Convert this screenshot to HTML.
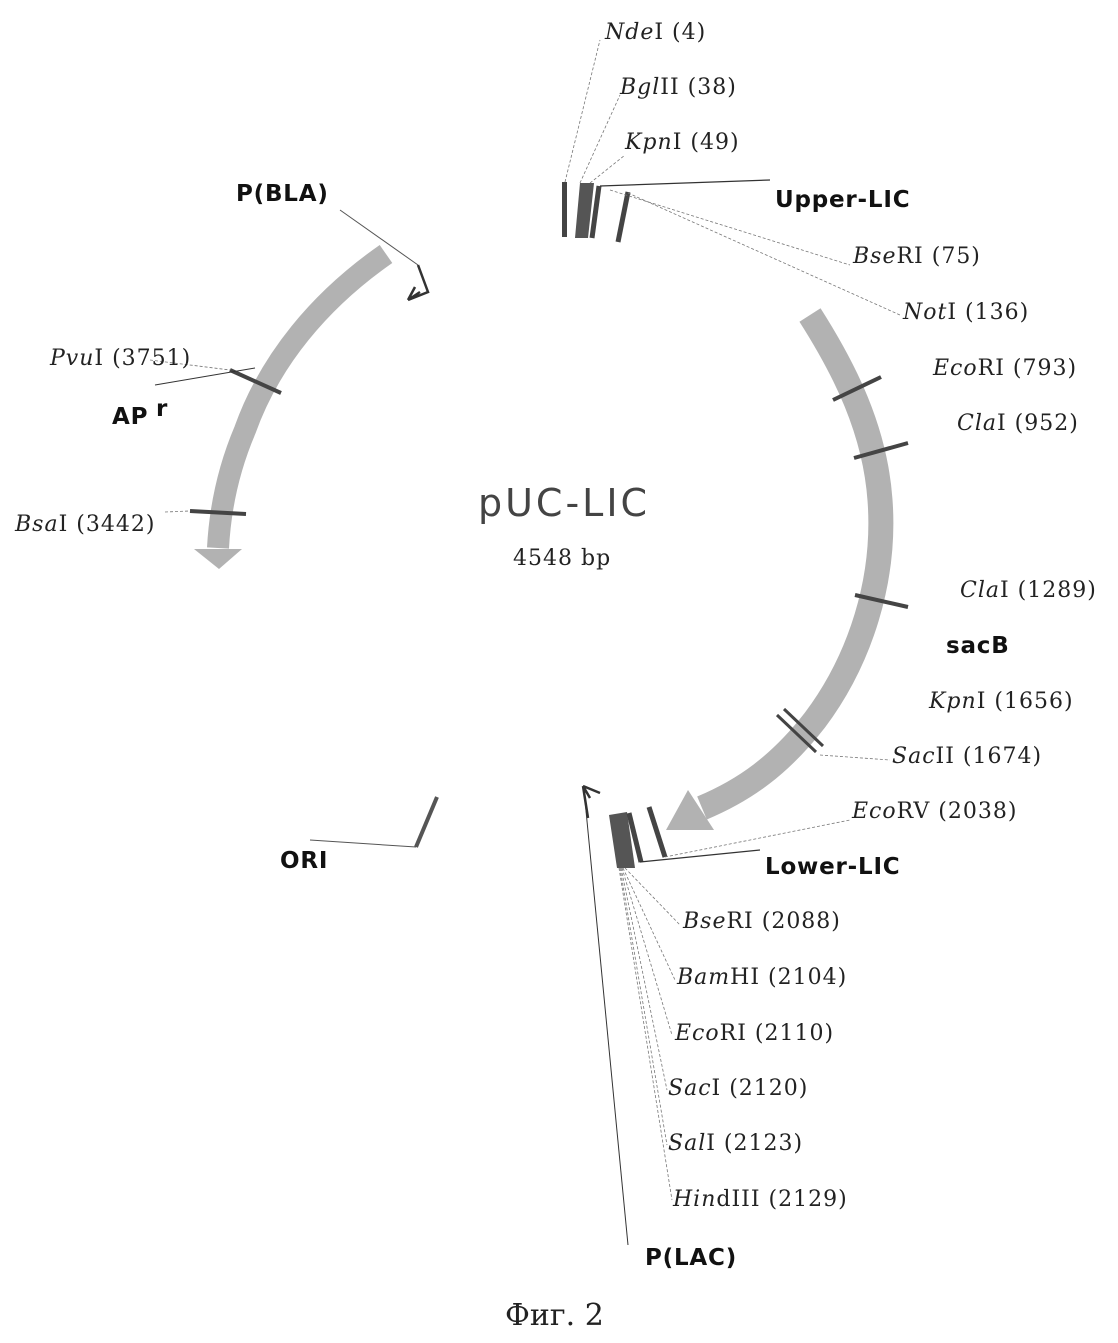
<!DOCTYPE html>
<html><head><meta charset="utf-8"><style>
body{margin:0;background:#fff}
svg{display:block}
.s{font-family:"DejaVu Serif",serif;font-size:22px;fill:#222;letter-spacing:1px}
.b{font-family:"DejaVu Sans",sans-serif;font-size:23px;font-weight:bold;fill:#111;letter-spacing:0.8px}
</style></head><body>
<svg width="1118" height="1343" viewBox="0 0 1118 1343">
<rect width="1118" height="1343" fill="#fff"/>
<!-- AP arc -->
<path d="M386,254 C320,300 270,360 245,430 C228,470 220,510 218,548" fill="none" stroke="#b2b2b2" stroke-width="22"/>
<polygon points="194,549 242,549 219,569" fill="#b2b2b2"/>
<line x1="230" y1="370" x2="281" y2="393" stroke="#444" stroke-width="4"/>
<line x1="190" y1="511" x2="246" y2="514" stroke="#444" stroke-width="4"/>
<!-- P(BLA) promoter -->
<path d="M418,265 L428,292 L408,300 M408,300 L420,292 M408,300 L415,287" fill="none" stroke="#333" stroke-width="2.5"/>
<line x1="340" y1="210" x2="418" y2="265" stroke="#555" stroke-width="1"/>
<!-- sacB arc -->
<path d="M810,315 C845,370 875,430 880,500 C886,580 860,660 815,720 C780,765 745,790 702,808" fill="none" stroke="#b2b2b2" stroke-width="25"/>
<polygon points="688,790 714,830 666,830" fill="#b2b2b2"/>
<line x1="833" y1="400" x2="881" y2="377" stroke="#444" stroke-width="4"/>
<line x1="854" y1="458" x2="908" y2="443" stroke="#444" stroke-width="4"/>
<line x1="855" y1="595" x2="908" y2="607" stroke="#444" stroke-width="4"/>
<line x1="777" y1="715" x2="816" y2="752" stroke="#444" stroke-width="3"/>
<line x1="784" y1="709" x2="823" y2="746" stroke="#444" stroke-width="3"/>
<!-- Upper-LIC -->
<rect x="562" y="182" width="5" height="55" fill="#444"/>
<polygon points="580,183 594,183 588,238 575,238" fill="#555"/>
<line x1="599" y1="186" x2="592" y2="238" stroke="#444" stroke-width="5"/>
<line x1="628" y1="192" x2="618" y2="242" stroke="#444" stroke-width="5"/>
<line x1="600" y1="186" x2="770" y2="180" stroke="#333" stroke-width="1.2"/>
<line x1="565" y1="182" x2="600" y2="40" stroke="#777" stroke-width="0.8" stroke-dasharray="3,2"/>
<line x1="580" y1="183" x2="620" y2="95" stroke="#777" stroke-width="0.8" stroke-dasharray="3,2"/>
<line x1="590" y1="183" x2="625" y2="155" stroke="#777" stroke-width="0.8" stroke-dasharray="3,2"/>
<line x1="610" y1="190" x2="850" y2="265" stroke="#777" stroke-width="0.8" stroke-dasharray="3,2"/>
<line x1="628" y1="193" x2="900" y2="315" stroke="#777" stroke-width="0.8" stroke-dasharray="3,2"/>
<!-- Lower-LIC -->
<polygon points="609,815 627,812 635,868 617,868" fill="#555"/>
<line x1="629" y1="813" x2="641" y2="862" stroke="#444" stroke-width="5"/>
<line x1="649" y1="807" x2="665" y2="857" stroke="#444" stroke-width="5"/>
<line x1="640" y1="862" x2="760" y2="850" stroke="#333" stroke-width="1.2"/>
<line x1="665" y1="857" x2="850" y2="820" stroke="#777" stroke-width="0.8" stroke-dasharray="3,2"/>
<line x1="820" y1="755" x2="890" y2="760" stroke="#777" stroke-width="0.8" stroke-dasharray="3,2"/>
<g stroke="#777" stroke-width="0.8" stroke-dasharray="3,2">
<line x1="625" y1="868" x2="680" y2="925"/><line x1="623" y1="868" x2="675" y2="980"/>
<line x1="622" y1="868" x2="672" y2="1035"/><line x1="621" y1="868" x2="667" y2="1090"/>
<line x1="620" y1="868" x2="667" y2="1145"/><line x1="619" y1="868" x2="672" y2="1200"/>
</g>
<!-- P(LAC) -->
<path d="M583,786 L588,818 M583,786 L600,793 M583,786 L590,798" fill="none" stroke="#333" stroke-width="2.5"/>
<line x1="584" y1="790" x2="628" y2="1245" stroke="#333" stroke-width="1"/>
<!-- ORI -->
<line x1="437" y1="797" x2="416" y2="847" stroke="#555" stroke-width="4"/>
<line x1="310" y1="840" x2="416" y2="847" stroke="#555" stroke-width="1"/>
<line x1="155" y1="385" x2="255" y2="368" stroke="#333" stroke-width="1"/>
<line x1="150" y1="360" x2="230" y2="370" stroke="#777" stroke-width="0.8" stroke-dasharray="3,2"/>
<line x1="165" y1="512" x2="190" y2="511" stroke="#777" stroke-width="0.8" stroke-dasharray="3,2"/>
<!-- labels -->
<text class="s" x="605" y="39"><tspan font-style="italic">Nde</tspan>I (4)</text>
<text class="s" x="620" y="94"><tspan font-style="italic">Bgl</tspan>II (38)</text>
<text class="s" x="625" y="149"><tspan font-style="italic">Kpn</tspan>I (49)</text>
<text class="b" x="775" y="207">Upper-LIC</text>
<text class="b" x="236" y="201">P(BLA)</text>
<text class="s" x="853" y="263"><tspan font-style="italic">Bse</tspan>RI (75)</text>
<text class="s" x="903" y="319"><tspan font-style="italic">Not</tspan>I (136)</text>
<text class="s" x="933" y="375"><tspan font-style="italic">Eco</tspan>RI (793)</text>
<text class="s" x="957" y="430"><tspan font-style="italic">Cla</tspan>I (952)</text>
<text class="s" x="50" y="365"><tspan font-style="italic">Pvu</tspan>I (3751)</text>
<text class="b" x="112" y="424">AP</text><text class="b" x="156" y="416" font-size="12">r</text>
<text class="s" x="15" y="531"><tspan font-style="italic">Bsa</tspan>I (3442)</text>
<text x="478" y="516" font-family="DejaVu Sans,sans-serif" font-size="38" fill="#444" letter-spacing="3">pUC-LIC</text>
<text class="s" x="513" y="565">4548 bp</text>
<text class="s" x="960" y="597"><tspan font-style="italic">Cla</tspan>I (1289)</text>
<text class="b" x="946" y="653">sacB</text>
<text class="s" x="929" y="708"><tspan font-style="italic">Kpn</tspan>I (1656)</text>
<text class="s" x="892" y="763"><tspan font-style="italic">Sac</tspan>II (1674)</text>
<text class="s" x="852" y="818"><tspan font-style="italic">Eco</tspan>RV (2038)</text>
<text class="b" x="765" y="874">Lower-LIC</text>
<text class="b" x="280" y="868">ORI</text>
<text class="s" x="683" y="928"><tspan font-style="italic">Bse</tspan>RI (2088)</text>
<text class="s" x="677" y="984"><tspan font-style="italic">Bam</tspan>HI (2104)</text>
<text class="s" x="675" y="1040"><tspan font-style="italic">Eco</tspan>RI (2110)</text>
<text class="s" x="668" y="1095"><tspan font-style="italic">Sac</tspan>I (2120)</text>
<text class="s" x="668" y="1150"><tspan font-style="italic">Sal</tspan>I (2123)</text>
<text class="s" x="673" y="1206"><tspan font-style="italic">Hin</tspan>dIII (2129)</text>
<text class="b" x="645" y="1265">P(LAC)</text>
<text x="505" y="1325" font-family="DejaVu Serif,serif" font-size="30" fill="#222">Фиг. 2</text>
</svg>
</body></html>
